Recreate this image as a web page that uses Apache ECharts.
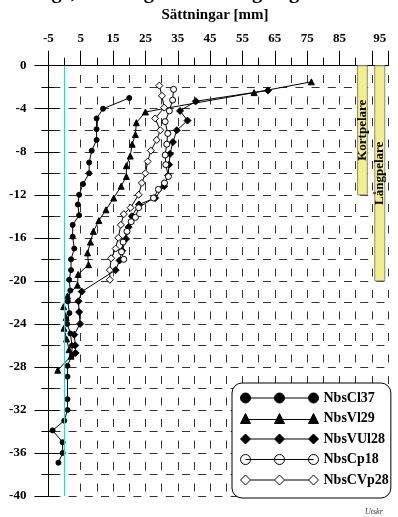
<!DOCTYPE html>
<html><head><meta charset="utf-8">
<script src="https://cdn.jsdelivr.net/npm/echarts@6/dist/echarts.min.js"></script>
<style>html,body{margin:0;padding:0;background:#fff}#c{width:398px;height:517px}</style>
</head><body><div id="c"></div>
<script>
// ---- data ----
const xTickLabels = ['-5','5','15','25','35','45','55','65','75','85','95'];
const seriesNames = ['NbsCl37','NbsVl29','NbsVUl28','NbsCp18','NbsCVp28'];

const nbsCl37 = [[20.0,-3.0],[11.9,-4.0],[9.9,-4.9],[9.9,-5.9],[9.9,-6.9],[8.4,-7.9],[7.6,-9.0],[7.6,-10.0],[5.7,-11.0],[4.5,-12.0],[4.1,-12.9],[4.5,-13.9],[2.5,-14.8],[2.5,-15.9],[3.0,-17.0],[2.0,-18.0],[2.0,-19.0],[1.4,-19.9],[1.8,-20.9],[1.0,-21.9],[1.5,-23.0],[0.8,-24.0],[1.8,-24.9],[2.3,-26.0],[2.3,-26.9],[0.9,-27.9],[0.9,-28.9],[0.9,-31.0],[0.9,-32.0],[-0.1,-33.0],[-3.7,-33.9],[-0.6,-35.0],[-0.6,-36.0],[-1.9,-36.9]];
const nbsVl29 = [[76.3,-1.5],[58.6,-2.5],[25.0,-4.3],[22.2,-5.3],[21.9,-6.4],[20.9,-7.3],[20.3,-8.4],[19.1,-9.3],[19.1,-10.3],[17.5,-11.2],[15.2,-12.3],[12.8,-13.4],[10.6,-14.4],[8.9,-15.4],[8.0,-16.4],[7.1,-17.4],[7.4,-18.5],[4.2,-19.4],[4.0,-20.4],[0.9,-21.4],[-0.3,-22.4],[0.5,-23.4],[-0.2,-24.4],[0.6,-25.4],[1.4,-26.4],[2.0,-27.0],[-2.1,-28.3]];
const nbsVUl28 = [[62.9,-2.3],[40.6,-3.3],[35.7,-4.2],[38.0,-5.1],[34.7,-6.0],[33.5,-7.1],[32.6,-8.2],[32.3,-9.2],[32.0,-10.2],[30.8,-11.2],[28.0,-12.3],[23.0,-12.9],[20.8,-14.0],[19.8,-15.0],[19.0,-16.1],[17.8,-17.2],[17.0,-18.1],[15.8,-19.0],[5.3,-21.0],[4.3,-21.9],[4.5,-22.9],[4.8,-24.0],[3.0,-25.0],[3.3,-26.0],[3.4,-26.7]];
const nbsCp18 = [[33.7,-2.2],[33.4,-3.2],[32.4,-4.2],[31.1,-5.2],[31.9,-6.3],[31.6,-7.3],[31.1,-8.3],[31.3,-9.2],[32.1,-10.3],[30.9,-10.9],[29.0,-11.5],[27.5,-12.3],[22.9,-13.2],[21.9,-14.1],[20.6,-14.5],[19.3,-15.4],[18.1,-16.4],[17.6,-17.3],[18.3,-18.0]];
const nbsCVp28 = [[29.3,-1.85],[30.1,-2.8],[30.8,-3.9],[28.0,-4.9],[29.6,-6.0],[28.5,-6.9],[26.7,-7.9],[25.7,-8.9],[25.0,-10.0],[23.9,-10.9],[22.9,-12.0],[20.4,-13.2],[18.3,-13.8],[17.4,-14.8],[16.6,-16.0],[15.8,-17.0],[14.4,-17.9],[14.0,-19.0],[14.0,-19.9]];

const pillarNames = ['Kortpelare','Långpelare'];
const pillarLeft = [90.6, 95.9];
const pillarRight = [93.6, 99.0];
const pillarBottom = [-12, -20];

// ---- rendering ----
const FONT = '"Liberation Serif", "Times New Roman", serif';
const chart = echarts.init(document.getElementById('c'), null, {renderer:'canvas'});

function lineSeries(name, data, symbol, size, filled) {
  return {
    type:'line', name, data, symbol, symbolSize:size, showSymbol:true, animation:false,
    xAxisIndex:0, yAxisIndex:0, z:4, silent:true,
    lineStyle:{color:'#000', width:1},
    itemStyle:{color: filled ? '#000' : '#fff', borderColor:'#000', borderWidth:1},
    emphasis:{disabled:true}
  };
}

const circlePath = 'path://M5,5L73,5M0,5A5,5,0,1,1,10,5A5,5,0,1,1,0,5ZM34,5A5,5,0,1,1,44,5A5,5,0,1,1,34,5ZM68,5A5,5,0,1,1,78,5A5,5,0,1,1,68,5Z';
const triPath = 'path://M5,6L73,6M0,10L5,0L10,10ZM34,10L39,0L44,10ZM68,10L73,0L78,10Z';
const diamondPath = 'path://M10,5L34,5M44,5L68,5M0,5L5,0L10,5L5,10ZM34,5L39,0L44,5L39,10ZM68,5L73,0L78,5L73,10Z';
const legendIcons = [circlePath, triPath, diamondPath, circlePath, diamondPath];
const legendFill = ['#000','#000','#000','#fff','#fff'];

const series = [
  lineSeries(seriesNames[0], nbsCl37, 'circle', 5, true),
  lineSeries(seriesNames[1], nbsVl29, 'triangle', 6, true),
  lineSeries(seriesNames[2], nbsVUl28, 'diamond', 7, true),
  lineSeries(seriesNames[3], nbsCp18, 'circle', 6, false),
  lineSeries(seriesNames[4], nbsCVp28, 'diamond', 7, false)
];
series[0].markLine = {
  silent:true, animation:false, symbol:['none','none'], label:{show:false},
  lineStyle:{color:'#00e6f2', type:'solid', width:1.2}, data:[{xAxis:0}]
};
series.push({
  type:'custom', xAxisIndex:0, yAxisIndex:0, z:2, silent:true, animation:false,
  data: pillarNames.map((n,i)=>[pillarLeft[i], pillarRight[i], pillarBottom[i]]),
  encode:{x:[0,1], y:2},
  renderItem:(params, api)=>{
    const p0 = api.coord([api.value(0), 0]);
    const p1 = api.coord([api.value(1), api.value(2)]);
    return {type:'group', children:[
      {type:'rect', shape:{x:p0[0], y:p0[1], width:p1[0]-p0[0], height:p1[1]-p0[1]},
       style:{fill:'#f5ee8c', stroke:'#8a8a78', lineWidth:1}},
      {type:'text', x:(p0[0]+p1[0])/2, y:(p0[1]+p1[1])/2, rotation:Math.PI/2,
       style:{text:pillarNames[params.dataIndex], align:'center', verticalAlign:'middle',
              fontFamily:FONT, fontWeight:'bold', fontSize:13, fill:'#000'}}
    ]};
  }
});

const labelStyle = {fontFamily:FONT, fontWeight:'bold', fontSize:13, color:'#000'};

chart.setOption({
  animation:false,
  grid:{left:48.4, right:10, top:65.7, bottom:21, containLabel:false},
  xAxis:[
    {type:'value', position:'top', min:-5, max:100, interval:5,
     axisLine:{show:true, onZero:false, lineStyle:{color:'#000', width:1}},
     axisTick:{show:true, length:8, lineStyle:{color:'#000'}},
     axisLabel:Object.assign({show:true, margin:21,
       formatter:(v)=>{const s=String(Math.round(v)); if(xTickLabels.indexOf(s)<0) return ''; return s==='95' ? '{s|95}' : s;},
       rich:{s:Object.assign({padding:[0,0,0,16]}, labelStyle)}}, labelStyle),
     splitLine:{show:true, lineStyle:{color:'#333', width:1, type:[8,13.5], dashOffset:12.2}}
    },
    {type:'value', position:'top', min:-5, max:100, interval:10,
     axisLine:{show:false, onZero:false},
     axisTick:{show:true, length:15, lineStyle:{color:'#000'}},
     axisLabel:{show:false}, splitLine:{show:false}}
  ],
  yAxis:[
    {type:'value', position:'left', min:-40, max:0, interval:4,
     axisLine:{show:true, onZero:false, lineStyle:{color:'#000', width:1}},
     axisTick:{show:true, length:14, lineStyle:{color:'#000'}},
     minorTick:{show:true, splitNumber:2, length:7, lineStyle:{color:'#000'}},
     axisLabel:Object.assign({show:true, margin:22}, labelStyle),
     splitLine:{show:false}},
    {type:'value', position:'left', min:-40, max:0, interval:4,
     axisLine:{show:false, onZero:false},
     axisTick:{show:true, inside:true, length:10, lineStyle:{color:'#000'}},
     minorTick:{show:true, splitNumber:2, length:6, lineStyle:{color:'#000'}},
     axisLabel:{show:false}, splitLine:{show:false}},
    {type:'value', position:'left', min:-40, max:0, interval:2,
     axisLine:{show:false, onZero:false}, axisTick:{show:false}, axisLabel:{show:false},
     splitLine:{show:true, lineStyle:{color:'#333', width:1, type:[8,8.2], dashOffset:12.2}}}
  ],
  legend:{
    orient:'vertical', left:232, top:383, padding:[8,2,11,8], itemGap:6.5,
    itemWidth:78, itemHeight:10, selectedMode:false,
    backgroundColor:'#fff', borderColor:'#000', borderWidth:1, borderRadius:10,
    textStyle:{fontFamily:FONT, fontWeight:'bold', fontSize:14, lineHeight:14, color:'#000'},
    data: seriesNames.map((n,i)=>({name:n, icon:legendIcons[i],
      itemStyle:{color:legendFill[i], borderColor:'#000', borderWidth:1}}))
  },
  graphic:[
    {type:'text', x:-2, y:-17.5, silent:true,
     style:{text:'Nödinge, mätning av sättslang dag 379 efter u', fontFamily:FONT, fontWeight:'bold', fontSize:20.5, align:'left', verticalAlign:'top', fill:'#000'}},
    {type:'text', x:215, y:8, silent:true,
     style:{text:'Sättningar [mm]', fontFamily:FONT, fontWeight:'bold', fontSize:15, align:'center', verticalAlign:'top', fill:'#000'}},
    {type:'text', x:365, y:508, silent:true,
     style:{text:'Utskr', fontFamily:FONT, fontStyle:'italic', fontSize:8, align:'left', verticalAlign:'top', fill:'#333'}}
  ],
  series
});
</script>
</body></html>
